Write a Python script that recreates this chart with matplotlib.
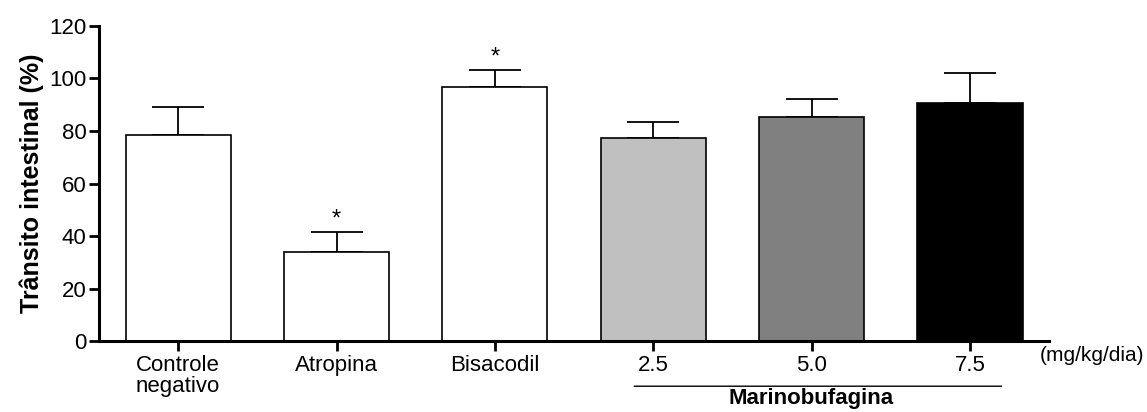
import matplotlib.pyplot as plt
import numpy as np

plt.rcParams['font.family'] = ['Liberation Sans', 'DejaVu Sans']

groups = ['Controle\nnegativo', 'Atropina', 'Bisacodil', '2.5', '5.0', '7.5']
means = [78.5, 34.0, 96.6, 77.2, 85.3, 90.5]
sem = [10.8, 7.6, 6.6, 6.3, 7.0, 11.7]
colors = ['white', 'white', 'white', '#c0c0c0', '#808080', 'black']
signif = ['', '*', '*', '', '', '']

fig = plt.figure(figsize=(11.47, 4.12), dpi=100)
ax = fig.add_axes([0.0863, 0.172, 0.8283, 0.765])

x = np.arange(len(groups))
ax.bar(x, means, width=0.665, color=colors, edgecolor='black', linewidth=1.2, zorder=2)
ax.errorbar(x, means, yerr=[np.zeros(len(sem)), sem], fmt='none', ecolor='black',
            elinewidth=1.3, capsize=19, capthick=1.3, zorder=1)
for xi, m, s, t in zip(x, means, sem, signif):
    if t:
        ax.text(xi, m + s + 0.5, t, ha='center', va='bottom', fontsize=17)

ax.set_xlim(-0.5, 5.5)
ax.set_ylim(0, 120)
ax.set_yticks(range(0, 121, 20))
ax.set_xticks(x)
ax.set_xticklabels(groups, fontsize=16, linespacing=1.0)
ax.tick_params(axis='y', labelsize=16, width=2, length=7, direction='out', pad=2)
ax.tick_params(axis='x', width=2, length=7, direction='out', pad=3)
for side in ['top', 'right']:
    ax.spines[side].set_visible(False)
for side in ['left', 'bottom']:
    ax.spines[side].set_linewidth(2.2)
ax.set_ylabel('Trânsito intestinal (%)', fontsize=18, fontweight='bold', labelpad=4)

# bracket for Marinobufagina doses
ax.annotate('', xy=(2.88, -0.143), xycoords=('data', 'axes fraction'),
            xytext=(5.2, -0.143), textcoords=('data', 'axes fraction'),
            arrowprops=dict(arrowstyle='-', lw=1.0, color='black', shrinkA=0, shrinkB=0))
ax.text(4.0, -0.216, 'Marinobufagina', transform=ax.get_xaxis_transform(),
        ha='center', va='bottom', fontsize=16, fontweight='bold')
ax.text(5.77, -0.044, '(mg/kg/dia)', transform=ax.get_xaxis_transform(),
        ha='center', va='center', fontsize=15, clip_on=False)

fig.savefig('out.png', dpi=100)
